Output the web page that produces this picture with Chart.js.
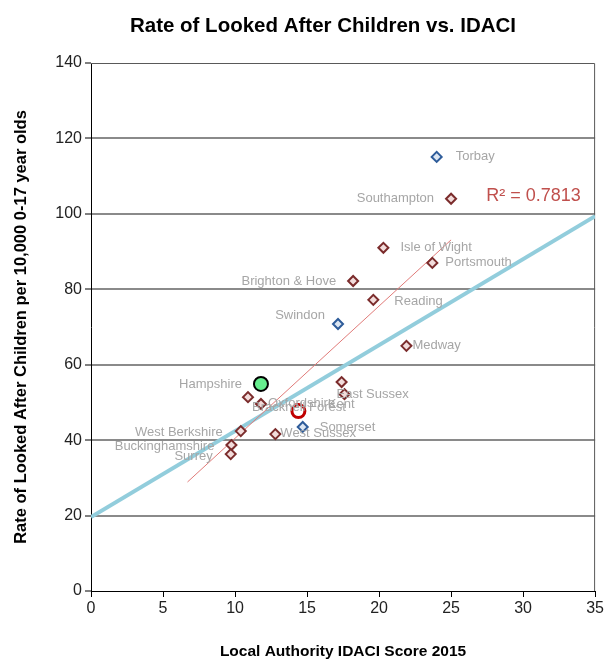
<!DOCTYPE html>
<html>
<head>
<meta charset="utf-8">
<script src="https://cdn.jsdelivr.net/npm/chart.js@4"></script>
<style>
html,body{margin:0;padding:0;background:#fff;}
#wrap{width:606px;height:661px;}
</style>
</head>
<body>
<div id="wrap"><canvas id="c" width="606" height="661"></canvas></div>
<script>
// ---- data ----
const laNames = ['Southampton','Isle of Wight','Portsmouth','Brighton & Hove','Reading','Medway','Kent','East Sussex','Bracknell Forest','Oxfordshire','West Sussex','West Berkshire','Buckinghamshire','Surrey'];
const laIdaci = [25.0, 20.3, 23.7, 18.2, 19.6, 21.9, 17.4, 17.6, 10.9, 11.8, 12.8, 10.4, 9.75, 9.7];
const laRate  = [104.0, 91.0, 87.0, 82.2, 77.2, 65.0, 55.4, 52.2, 51.4, 49.6, 41.6, 42.4, 38.7, 36.3];

const blueNames = ['Torbay','Swindon','Somerset'];
const blueIdaci = [24.0, 17.15, 14.7];
const blueRate  = [115.1, 70.8, 43.5];

const hantsName  = ['Hampshire'];
const hantsIdaci = [11.8];
const hantsRate  = [54.9];

const avgIdaci = [14.4];
const avgRate  = [47.7];

const trendX = [6.7, 25.0];
const trendY = [28.9, 93.1];

const refLineX = [0, 35];
const refLineY = [19.6, 99.4];

const rSquaredText = 'R² = 0.7813';

const xTicks = [0,5,10,15,20,25,30,35];
const yTicks = [0,20,40,60,80,100,120,140];

// label placement (pixel offsets from the point, text alignment)
const laLabelPos = [[-17,0,'right'],[17,0,'left'],[13,0,'left'],[-17,0,'right'],[21,2,'left'],[6,0,'left'],[13,22,'right'],[-8,0,'left'],[4,10,'left'],[7,-1,'left'],[5,-1,'left'],[-18,1,'right'],[-17,1,'right'],[-18,2,'right']];
const blueLabelPos = [[19,0,'left'],[-13,-9,'right'],[17,0,'left']];
const hantsLabelPos = [[-19,0,'right']];

const zip = (xs, ys) => xs.map((x, i) => ({x: x, y: ys[i]}));
const FONT = '"Liberation Sans", Arial, sans-serif';

const labelPlugin = {
  id: 'pointLabels',
  afterDatasetsDraw(chart) {
    const ctx = chart.ctx;
    ctx.save();
    ctx.font = '13px ' + FONT;
    ctx.fillStyle = '#A6A6A6';
    ctx.textBaseline = 'middle';
    chart.data.datasets.forEach((ds, di) => {
      if (!ds.labels) return;
      const meta = chart.getDatasetMeta(di);
      meta.data.forEach((el, i) => {
        const p = ds.labelPos[i];
        ctx.textAlign = p[2];
        ctx.fillText(ds.labels[i], el.x + p[0], el.y + p[1]);
      });
    });
    const xs = chart.scales.x, ys = chart.scales.y;
    ctx.font = '18px ' + FONT;
    ctx.fillStyle = '#C0504D';
    ctx.textAlign = 'right';
    ctx.fillText(rSquaredText, xs.getPixelForValue(34.0), ys.getPixelForValue(104.7));
    ctx.restore();
  }
};

const framePlugin = {
  id: 'frame',
  beforeDatasetsDraw(chart) {
    const {ctx, chartArea: a} = chart;
    ctx.save();
    ctx.strokeStyle = '#595959';
    ctx.lineWidth = 1;
    ctx.beginPath();
    ctx.moveTo(a.left, a.top + 0.5);
    ctx.lineTo(a.right - 0.5, a.top + 0.5);
    ctx.lineTo(a.right - 0.5, a.bottom);
    ctx.stroke();
    ctx.restore();
  }
};

const titlePlugin = {
  id: 'mainTitle',
  afterDraw(chart) {
    const ctx = chart.ctx;
    ctx.save();
    ctx.font = 'bold 20.5px ' + FONT;
    ctx.fillStyle = '#000';
    ctx.textAlign = 'center';
    ctx.textBaseline = 'alphabetic';
    ctx.fillText('Rate of Looked After Children vs. IDACI', 323, 32);
    ctx.restore();
  }
};

new Chart(document.getElementById('c'), {
  type: 'scatter',
  data: {
    datasets: [
      {
        label: 'Hampshire', data: zip(hantsIdaci, hantsRate), labels: hantsName, labelPos: hantsLabelPos,
        pointStyle: 'circle', pointRadius: 7, pointHoverRadius: 7,
        backgroundColor: '#66EE8E', borderColor: '#000', borderWidth: 2, order: 0
      },
      {
        label: 'Average', data: zip(avgIdaci, avgRate),
        pointStyle: 'circle', pointRadius: 6.5, pointHoverRadius: 6.5,
        backgroundColor: '#fff', borderColor: '#C00000', borderWidth: 3, order: 0
      },
      {
        label: 'Local authorities', data: zip(laIdaci, laRate), labels: laNames, labelPos: laLabelPos,
        pointStyle: 'rectRot', pointRadius: 5, pointHoverRadius: 5,
        backgroundColor: '#F2DCDB', borderColor: '#7B2C2C', borderWidth: 2, order: 1
      },
      {
        label: 'Statistical neighbours', data: zip(blueIdaci, blueRate), labels: blueNames, labelPos: blueLabelPos,
        pointStyle: 'rectRot', pointRadius: 5, pointHoverRadius: 5,
        backgroundColor: '#DCE6F2', borderColor: '#2E5C9A', borderWidth: 2, order: 1
      },
      {
        type: 'line', label: 'Trend', data: zip(trendX, trendY),
        borderColor: '#E07A78', borderWidth: 1, pointRadius: 0, fill: false, order: 2
      },
      {
        type: 'line', label: 'Reference line', data: zip(refLineX, refLineY),
        borderColor: '#92CDDC', borderWidth: 4, pointRadius: 0, fill: false, order: 3
      }
    ]
  },
  options: {
    responsive: false,
    animation: false,
    layout: { padding: { top: 63, right: 9, left: 0, bottom: 0 } },
    plugins: { legend: { display: false }, tooltip: { enabled: false }, title: { display: false } },
    scales: {
      x: {
        type: 'linear', min: 0, max: 35,
        afterFit(s) { s.height = 70; },
        afterBuildTicks(s) { s.ticks = xTicks.map(v => ({value: v})); },
        ticks: { font: { size: 16, family: FONT }, color: '#222', padding: 2, maxRotation: 0, autoSkip: false },
        grid: { drawOnChartArea: false, drawTicks: true, tickLength: 6, tickColor: '#000', tickWidth: 1 },
        border: { display: true, color: '#000', width: 1 },
        title: { display: true, text: 'Local Authority IDACI Score 2015', font: { size: 15.5, weight: 'bold', family: FONT }, color: '#000', padding: { top: 0, bottom: 0 } }
      },
      y: {
        type: 'linear', min: 0, max: 140,
        afterFit(s) { s.width = 91; },
        afterBuildTicks(s) { s.ticks = yTicks.map(v => ({value: v})); },
        ticks: { font: { size: 16, family: FONT }, color: '#222', padding: 3, autoSkip: false },
        grid: {
          color: ctx => (ctx.tick && (ctx.tick.value === 0 || ctx.tick.value === 140)) ? 'rgba(0,0,0,0)' : '#8A8A8A',
          lineWidth: 2, drawTicks: true, tickLength: 6, tickColor: '#000', tickWidth: 1
        },
        border: { display: true, color: '#000', width: 1 },
        title: { display: true, text: 'Rate of Looked After Children per 10,000 0-17 year olds', font: { size: 16.5, weight: 'bold', family: FONT }, color: '#000', padding: { top: 12, bottom: 0 } }
      }
    }
  },
  plugins: [framePlugin, labelPlugin, titlePlugin]
});
</script>
</body>
</html>
